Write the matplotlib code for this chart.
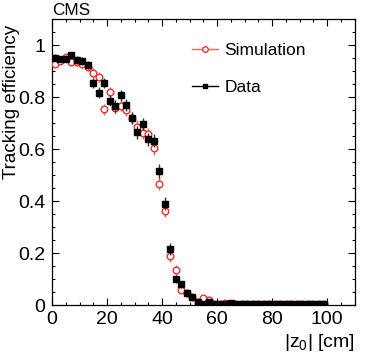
import matplotlib
matplotlib.use("Agg")
import matplotlib.pyplot as plt
from matplotlib.lines import Line2D
from matplotlib.ticker import MultipleLocator, FuncFormatter
import numpy as np

plt.rcParams['font.family'] = ['Liberation Sans', 'DejaVu Sans']
plt.rcParams['mathtext.default'] = 'regular'

z_centers = list(range(1, 100, 2))

sim_eff = [0.928, 0.940, 0.954, 0.935, 0.935, 0.927, 0.917, 0.892, 0.876, 0.753,
           0.818, 0.756, 0.767, 0.750, 0.720, 0.686, 0.663, 0.656, 0.603, 0.467,
           0.362, 0.187, 0.135, 0.058, 0.045, 0.030, 0.010, 0.028, 0.020, 0.004,
           0.003, 0.006, 0.003, 0.002, 0.002, 0.002, 0.002, 0.002, 0.002, 0.002,
           0.002, 0.002, 0.002, 0.002, 0.002, 0.002, 0.002, 0.002, 0.002, 0.002]
sim_err = [0.014, 0.013, 0.013, 0.014, 0.014, 0.015, 0.016, 0.018, 0.019, 0.022,
           0.021, 0.022, 0.022, 0.023, 0.023, 0.024, 0.024, 0.025, 0.025, 0.026,
           0.025, 0.021, 0.018, 0.012, 0.010, 0.008, 0.005, 0.008, 0.007, 0.003,
           0.003, 0.004, 0.003, 0.002, 0.002, 0.002, 0.002, 0.002, 0.002, 0.002,
           0.002, 0.002, 0.002, 0.002, 0.002, 0.002, 0.002, 0.002, 0.002, 0.002]

data_eff = [0.951, 0.946, 0.947, 0.962, 0.942, 0.940, 0.922, 0.853, 0.817, 0.855,
            0.786, 0.765, 0.806, 0.769, 0.720, 0.664, 0.696, 0.637, 0.632, 0.514,
            0.390, 0.215, 0.100, 0.080, 0.045, 0.030, 0.010, 0.004, 0.010, 0.004,
            0.003, 0.003, 0.006, 0.002, 0.002, 0.002, 0.002, 0.002, 0.002, 0.002,
            0.002, 0.002, 0.002, 0.002, 0.002, 0.002, 0.002, 0.002, 0.002, 0.002]
data_err = [0.013, 0.013, 0.013, 0.013, 0.014, 0.015, 0.016, 0.019, 0.020, 0.020,
            0.022, 0.022, 0.022, 0.023, 0.023, 0.024, 0.024, 0.025, 0.025, 0.027,
            0.026, 0.022, 0.016, 0.013, 0.010, 0.008, 0.005, 0.003, 0.005, 0.003,
            0.003, 0.003, 0.004, 0.002, 0.002, 0.002, 0.002, 0.002, 0.002, 0.002,
            0.002, 0.002, 0.002, 0.002, 0.002, 0.002, 0.002, 0.002, 0.002, 0.002]

RED = '#ff2a2a'
RED_ERR = '#ff5c5c'

fig = plt.figure(figsize=(3.74, 3.59), dpi=100)
ax = fig.add_axes([52/374, 54/359, 302.5/374, 286/359])

ax.errorbar(z_centers, sim_eff, yerr=sim_err, fmt='o', ms=4.8, mfc='white',
            mec=RED, mew=1.0, ecolor=RED_ERR, elinewidth=1.0, capsize=0, zorder=3)
ax.errorbar(z_centers, data_eff, yerr=data_err, fmt='s', ms=4.5, mfc='black',
            mec='black', ecolor='#333333', elinewidth=1.0, capsize=0, zorder=4)

ax.set_xlim(0, 110)
ax.set_ylim(0, 1.1)
ax.xaxis.set_major_locator(MultipleLocator(20))
ax.xaxis.set_minor_locator(MultipleLocator(5))
ax.yaxis.set_major_locator(MultipleLocator(0.2))
ax.yaxis.set_minor_locator(MultipleLocator(0.05))
ax.yaxis.set_major_formatter(FuncFormatter(lambda v, p: f"{v:g}"))
ax.tick_params(which='both', direction='in', top=True, right=True, labelsize=14)
ax.tick_params(which='major', length=5, width=0.8)
ax.tick_params(which='minor', length=2.5, width=0.8)
ax.tick_params(axis='x', pad=4)
ax.tick_params(axis='y', pad=5)
for s in ax.spines.values():
    s.set_linewidth(0.9)

ax.set_ylabel('Tracking efficiency', fontsize=13.5, loc='top')
ax.yaxis.set_label_coords(-0.106, 0.979)
ax.set_xlabel('|z$_{0}$| [cm]', fontsize=14, loc='right')
ax.xaxis.set_label_coords(1.0, -0.094)

fig.text(52/374, 1 - 15/359, 'CMS', fontsize=12.3, ha='left', va='baseline')

handles = [Line2D([], [], color=RED_ERR, lw=1.0, marker='o', ms=4.0, mfc='white',
                  mec=RED, mew=1.0),
           Line2D([], [], color='black', lw=1.0, marker='s', ms=3.5, mfc='black',
                  mec='black')]
ax.legend(handles, ['Simulation', 'Data'], loc='upper left',
          bbox_to_anchor=(0.463, 0.916), frameon=False, fontsize=12.5,
          handlelength=1.5, handletextpad=0.35, labelspacing=1.24,
          borderpad=0, borderaxespad=0)

fig.savefig('out.png', dpi=100)
